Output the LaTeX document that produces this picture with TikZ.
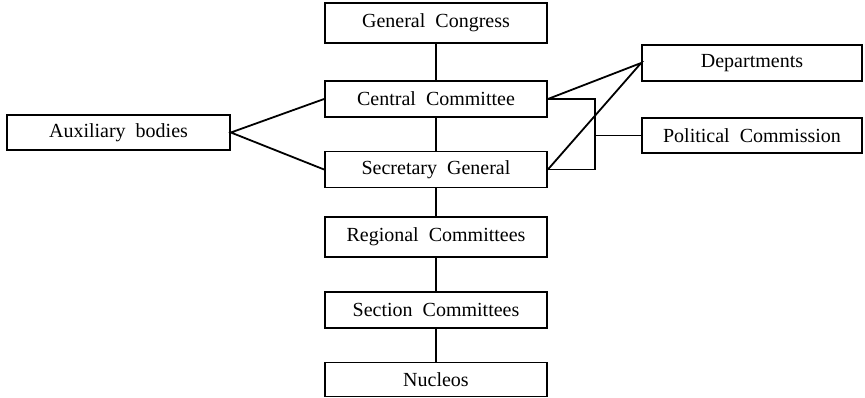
\documentclass[tikz,border=0pt]{standalone}
\usepackage{fontspec}
\setmainfont{Liberation Serif}
\begin{document}
\begin{tikzpicture}[x=1pt,y=-1pt,
  box/.style={draw, line width=1.8pt, inner sep=0pt, anchor=center,
    font=\fontsize{20}{23}\selectfont, minimum width=222pt},
  link/.style={line width=1.8pt}]
\useasboundingbox (0,0) rectangle (865,397);
% central column
\node[box, minimum height=40pt] (gc) at (436,23)    {General\ \ Congress};
\node[box, minimum height=36pt] (cc) at (436,99)    {Central\ \ Committee};
\node[box, minimum height=36pt] (sg) at (436,169.5) {Secretary\ \ General};
\node[box, minimum height=40pt] (rc) at (436,237)   {Regional\ \ Committees};
\node[box, minimum height=36pt] (sc) at (436,310)   {Section\ \ Committees};
\node[box, minimum height=34pt] (nu) at (436,379.5) {Nucleos};
% side boxes
\node[box, minimum width=223pt, minimum height=35pt] (aux) at (118.5,132.5) {Auxiliary\ \ bodies};
\node[box, minimum width=220pt, minimum height=36pt] (dep) at (752,63)  {Departments};
\node[box, minimum width=220pt, minimum height=35pt] (pc)  at (752,135.5) {Political\ \ Commission};
\coordinate (br) at (595,135.5);
% connectors
\draw[link] (gc.south) -- (cc.north);
\draw[link] (cc.south) -- (sg.north);
\draw[link] (sg.south) -- (rc.north);
\draw[link] (rc.south) -- (sc.north);
\draw[link] (sc.south) -- (nu.north);
\draw[link] (cc.west) -- (aux.east) -- (sg.west);
\draw[link] (cc.east) -- (dep.west) -- (sg.east);
\draw[link] (cc.east) -| (br) |- (sg.east);
\draw[link] (br) -- (pc.west);
\end{tikzpicture}
\end{document}
